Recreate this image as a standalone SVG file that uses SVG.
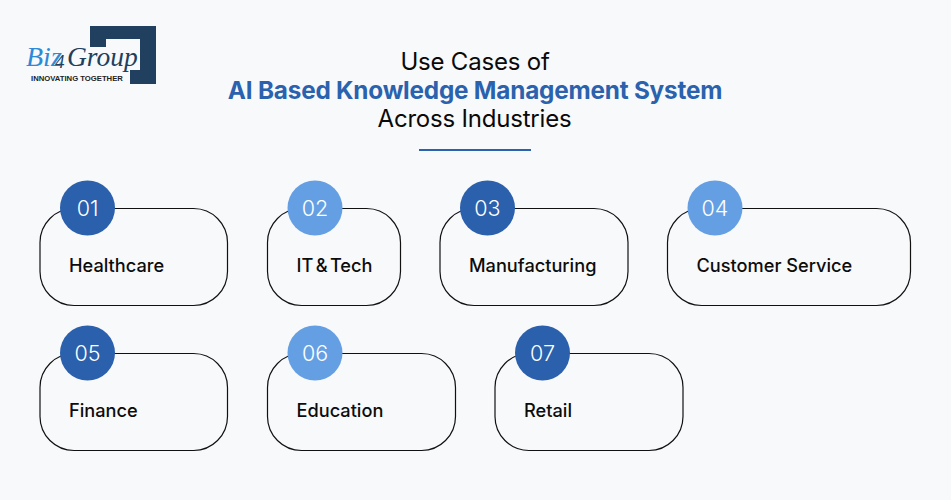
<svg xmlns="http://www.w3.org/2000/svg" width="951" height="500" viewBox="0 0 951 500">
<style>
text{font-family:"Inter","Liberation Sans",sans-serif}
.t{font-size:24px;fill:#0a0a0a;text-anchor:middle;letter-spacing:-.2px}
.h{font-size:24.300px;font-weight:700;fill:#2a62ae;text-anchor:middle;letter-spacing:-.2px}
.card{fill:none;stroke:#111;stroke-width:1.2}
.l{font-size:18.200px;font-weight:500;fill:#0c0c0c}
.n{font-size:21.500px;fill:#fff;text-anchor:middle;font-weight:300}
.d{fill:#2a60ac}.s{fill:#659fe3}
</style>
<rect width="951" height="500" fill="#f8f9fb"/>
<g id="logo">
<polygon points="90,26 156,26 156,84 130,84 130,70 140,70 140,39 106,39 106,47 90,47" fill="#213f5f"/>
<text x="26" y="65.500" style="font-family:'Liberation Serif',serif;font-size:28px;font-style:italic" fill="#2d8ad8">Biz</text>
<text x="55" y="68" style="font-family:'Liberation Serif',serif;font-size:19px;font-style:italic" fill="#213f5f">4</text>
<text x="67" y="65.500" style="font-family:'Liberation Serif',serif;font-size:27.500px;font-style:italic" fill="#213f5f">Group</text>
<text x="31" y="80.500" style="font-family:'Liberation Sans',sans-serif;font-size:7.700px;font-weight:700" fill="#222">INNOVATING TOGETHER</text>
</g>
<g id="title">
<text class="t" x="475" y="70">Use Cases of</text>
<text class="h" x="475" y="99">AI Based Knowledge Management System</text>
<text class="t" x="474.500" y="127">Across Industries</text>
<rect x="419" y="149" width="112" height="2" fill="#2a62ae"/>
</g>
<g id="connectors"></g>
<g id="n1"><rect class="card" x="40" y="208.500" width="187.500" height="97" rx="34"/><circle class="d" cx="87.500" cy="208" r="27.500"/><text class="n" x="87.500" y="215.500">01</text><text class="l" x="69" y="272">Healthcare</text></g>
<g id="n2"><rect class="card" x="267.500" y="208.500" width="133" height="97" rx="34"/><circle class="s" cx="315" cy="208" r="27.500"/><text class="n" x="315" y="215.500">02</text><text class="l" x="296.500" y="272" word-spacing="-2.500">IT &amp; Tech</text></g>
<g id="n3"><rect class="card" x="440" y="208.500" width="188" height="97" rx="34"/><circle class="d" cx="487.500" cy="208" r="27.500"/><text class="n" x="487.500" y="215.500">03</text><text class="l" x="469" y="272">Manufacturing</text></g>
<g id="n4"><rect class="card" x="667.500" y="208.500" width="243" height="97" rx="34"/><circle class="s" cx="715" cy="208" r="27.500"/><text class="n" x="715" y="215.500">04</text><text class="l" x="696.500" y="272">Customer Service</text></g>
<g id="n5"><rect class="card" x="40" y="353.500" width="187.500" height="97" rx="34"/><circle class="d" cx="87.500" cy="353" r="27.500"/><text class="n" x="87.500" y="360.500">05</text><text class="l" x="69" y="417">Finance</text></g>
<g id="n6"><rect class="card" x="267.500" y="353.500" width="188" height="97" rx="34"/><circle class="s" cx="315" cy="353" r="27.500"/><text class="n" x="315" y="360.500">06</text><text class="l" x="296.500" y="417">Education</text></g>
<g id="n7"><rect class="card" x="495" y="353.500" width="188" height="97" rx="34"/><circle class="d" cx="542.500" cy="353" r="27.500"/><text class="n" x="542.500" y="360.500">07</text><text class="l" x="524" y="417">Retail</text></g>
</svg>
